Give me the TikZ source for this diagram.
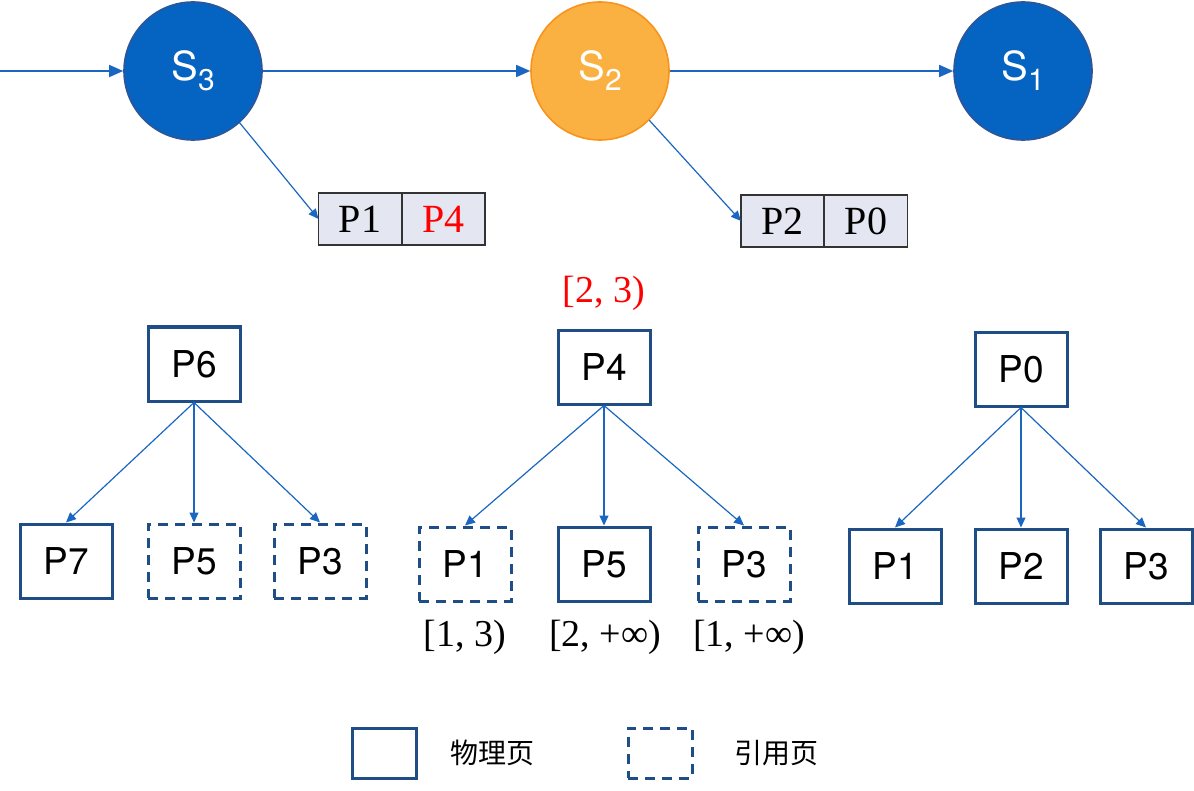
\documentclass[tikz,border=0pt]{standalone}
\usepackage{fontspec}
\setmainfont{Liberation Serif}
\setsansfont{TeX Gyre Heros}
\newfontfamily\cjk{Noto Sans CJK SC}
\usetikzlibrary{arrows.meta}

\definecolor{stblue}{HTML}{0563C1}
\definecolor{stedge}{HTML}{2F5597}
\definecolor{storange}{HTML}{FBB042}
\definecolor{stedgeorange}{HTML}{F7941D}
\definecolor{cellfill}{HTML}{E4E7F1}
\definecolor{pageblue}{HTML}{1F4E87}
\definecolor{arrowblue}{HTML}{1A66C0}
\definecolor{rangered}{HTML}{FF0000}

\newcommand{\stname}[1]{S\raisebox{-5pt}{\fontsize{15pt}{15pt}\selectfont #1}}

\begin{document}
\begin{tikzpicture}[x=0.5pt, y=-0.5pt,
    state/.style={circle, draw=stedge, fill=stblue, line width=0.8pt, minimum size=69pt, inner sep=0pt, text=white, font=\sffamily\fontsize{20pt}{20pt}\selectfont},
    active/.style={state, fill=storange, draw=stedgeorange},
    cell/.style={draw=black!80, fill=cellfill, line width=0.75pt, minimum width=41.5pt, minimum height=26pt, inner sep=0pt, outer sep=0pt, font=\fontsize{20pt}{20pt}\selectfont},
    page/.style={draw=pageblue, line width=1.5pt, minimum width=46pt, minimum height=37pt, inner sep=0pt, font=\sffamily\fontsize{18.5pt}{18.5pt}\selectfont},
    refpage/.style={page, dash pattern=on 5pt off 3.5pt},
    arrow/.style={-{Triangle[length=7pt, width=6pt]}, arrowblue, line width=0.75pt},
    link/.style={-{Triangle[length=5pt, width=4.5pt]}, arrowblue, line width=0.6pt},
    interval/.style={font=\fontsize{19pt}{19pt}\selectfont},
    legend/.style={font=\cjk\fontsize{14pt}{14pt}\selectfont}
]
    \useasboundingbox (0,0) rectangle (1194,791);

    % Snapshot chain
    \coordinate (in) at (0,71);
    \node[state] (S3) at (193,71) {\stname{3}};
    \node[active] (S2) at (600,71) {\stname{2}};
    \node[state] (S1) at (1023,71) {\stname{1}};

    \draw[arrow] (in) -- (S3);
    \draw[arrow] (S3) -- (S2);
    \draw[arrow] (S2) -- (S1);

    % Page lists
    \node[cell] (b3a) at (360,219) {P1};
    \node[cell, text=rangered] (b3b) at (443.5,219) {P4};
    \node[cell] (b2a) at (782.5,221) {P2};
    \node[cell] (b2b) at (866,221) {P0};

    \draw[link] (S3.-48) -- (b3a.west);
    \draw[link] (S2.-45) -- (b2a.west);

    % Tree of S3
    \node[page] (P6) at (194,364) {P6};
    \node[page] (t1P7) at (66,561) {P7};
    \node[refpage] (t1P5) at (194,561) {P5};
    \node[refpage] (t1P3) at (320,561) {P3};
    \draw[link] (P6.south) -- (t1P7.north);
    \draw[link] (P6.south) -- (t1P5.north);
    \draw[link] (P6.south) -- (t1P3.north);

    % Tree of S2
    \node[interval, text=rangered] (r4) at (604,293) {[2, 3)};
    \node[page] (P4) at (604,367) {P4};
    \node[refpage] (t2P1) at (465,564) {P1};
    \node[page] (t2P5) at (604,564) {P5};
    \node[refpage] (t2P3) at (744,564) {P3};
    \draw[link] (P4.south) -- (t2P1.north);
    \draw[link] (P4.south) -- (t2P5.north);
    \draw[link] (P4.south) -- (t2P3.north);
    \node[interval] (r1) at (465,637) {[1, 3)};
    \node[interval] (r5) at (605,637) {[2, +∞)};
    \node[interval] (r3) at (749,637) {[1, +∞)};

    % Tree of S1
    \node[page] (P0) at (1021,369) {P0};
    \node[page] (t3P1) at (895,566) {P1};
    \node[page] (t3P2) at (1021,566) {P2};
    \node[page] (t3P3) at (1146,566) {P3};
    \draw[link] (P0.south) -- (t3P1.north);
    \draw[link] (P0.south) -- (t3P2.north);
    \draw[link] (P0.south) -- (t3P3.north);

    % Legend
    \node[page, minimum width=32pt, minimum height=25pt] (lgphys) at (384,753) {};
    \node[legend] (lgphystxt) at (492,753) {物理页};
    \node[refpage, minimum width=32pt, minimum height=25pt] (lgref) at (660,753) {};
    \node[legend] (lgreftxt) at (776,753) {引用页};
\end{tikzpicture}
\end{document}
